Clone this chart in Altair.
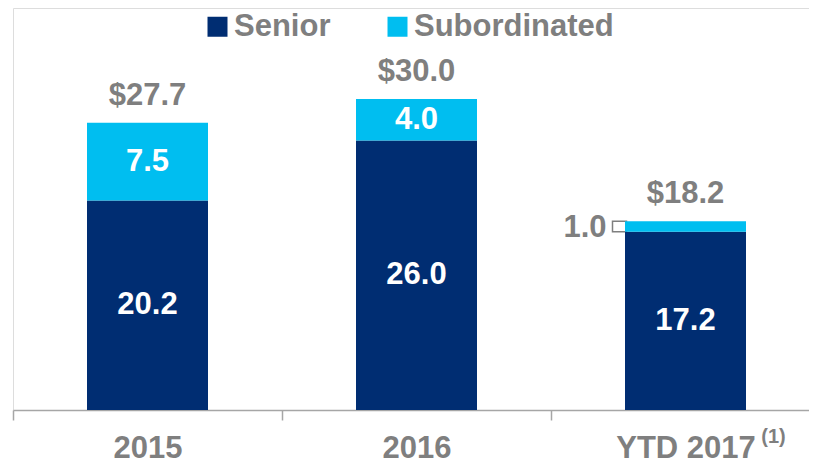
import altair as alt
import pandas as pd

categories = ["2015", "2016", "YTD 2017"]
series = ["Senior", "Subordinated"]
senior = [20.2, 26.0, 17.2]
subordinated = [7.5, 4.0, 1.0]
totals = [27.7, 30.0, 18.2]
total_labels = ["$27.7", "$30.0", "$18.2"]
footnote = "(1)"

NAVY = "#002D72"
CYAN = "#00BEF0"
GRAY = "#7F7F7F"
AXIS_GRAY = "#A6A6A6"
FONT = "Liberation Sans"

rows = []
for c, s, b in zip(categories, senior, subordinated):
    rows.append({"category": c, "series": "Senior", "value": s, "v0": 0.0, "v1": s,
                 "label": f"{s:.1f}"})
    rows.append({"category": c, "series": "Subordinated", "value": b, "v0": s, "v1": s + b,
                 "label": f"{b:.1f}"})
df = pd.DataFrame(rows)
df["mid"] = (df["v0"] + df["v1"]) / 2

tot = pd.DataFrame({"category": categories, "total": totals, "label": total_labels})
note = pd.DataFrame({"category": [categories[-1]], "label": [footnote]})

xscale = alt.Scale(domain=categories, range=[0, 807], paddingInner=0, paddingOuter=0)
yscale = alt.Scale(domain=[0, 38.77], nice=False, zero=True)

xenc = alt.X(
    "category:N",
    scale=xscale,
    sort=categories,
    axis=alt.Axis(
        title=None, labelAngle=0, labelAlign="center", grid=False,
        domainColor=AXIS_GRAY, domainWidth=1.5,
        tickColor=AXIS_GRAY, tickWidth=1.5, tickSize=10, tickBand="extent",
        labelFont=FONT, labelFontSize=31, labelFontWeight="bold", labelColor=GRAY,
        labelPadding=28,
    ),
)

base = alt.Chart(df)

bracket = base.transform_filter("datum.value < 2").mark_bar(
    width=14, xOffset=-66, fill="white", stroke=GRAY, strokeWidth=1.5
).encode(
    x=alt.X("category:N", scale=xscale, sort=categories),
    y=alt.Y("v0:Q", scale=yscale, axis=None),
    y2="v1:Q",
)

bars = base.mark_bar(size=121).encode(
    x=xenc,
    y=alt.Y("v0:Q", scale=yscale, axis=None),
    y2="v1:Q",
    color=alt.Color(
        "series:N",
        scale=alt.Scale(domain=series, range=[NAVY, CYAN]),
        legend=alt.Legend(
            orient="none", legendX=189, legendY=3, direction="horizontal",
            title=None, symbolType="square", symbolSize=400, symbolStrokeWidth=0,
            labelFont=FONT, labelFontSize=31, labelFontWeight="bold", labelColor=GRAY,
            labelOffset=1, columnPadding=51, padding=0, labelLimit=0,
        ),
    ),
)

inner = base.transform_filter("datum.value >= 2").mark_text(
    font=FONT, fontSize=31, fontWeight="bold", color="white", baseline="middle"
).encode(
    x=alt.X("category:N", scale=xscale, sort=categories),
    y=alt.Y("mid:Q", scale=yscale, axis=None),
    text="label:N",
)

outer = base.transform_filter("datum.value < 2").mark_text(
    font=FONT, fontSize=31, fontWeight="bold", color=GRAY, baseline="middle",
    align="right", dx=-79, dy=2
).encode(
    x=alt.X("category:N", scale=xscale, sort=categories),
    y=alt.Y("mid:Q", scale=yscale, axis=None),
    text="label:N",
)

total_text = alt.Chart(tot).mark_text(
    font=FONT, fontSize=31, fontWeight="bold", color=GRAY, baseline="alphabetic", dy=-18
).encode(
    x=alt.X("category:N", scale=xscale, sort=categories),
    y=alt.Y("total:Q", scale=yscale, axis=None),
    text="label:N",
)

note_text = alt.Chart(note).mark_text(
    font=FONT, fontSize=20, fontWeight="bold", color=GRAY, baseline="alphabetic",
    align="center", dx=88
).encode(
    x=alt.X("category:N", scale=xscale, sort=categories),
    y=alt.value(435),
    text="label:N",
)

chart = alt.layer(bracket, bars, inner, outer, total_text, note_text).properties(
    width=796, height=402,
    autosize=alt.AutoSizeParams(type="none"),
    padding={"left": 5, "top": 0, "right": 0, "bottom": 51},
).configure_view(stroke=None).configure(background="white")

chart.save("out.html", embed_options={"renderer": "svg", "actions": False})
